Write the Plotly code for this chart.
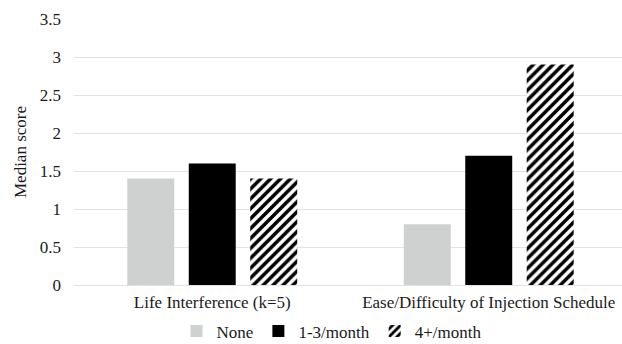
import plotly.graph_objects as go

categories = ["Life Interference (k=5)", "Ease/Difficulty of Injection Schedule"]
series_names = ["None", "1-3/month", "4+/month"]
none_vals = [1.4, 0.8]
low_vals = [1.6, 1.7]
high_vals = [1.4, 2.9]
y_ticks = [0, 0.5, 1, 1.5, 2, 2.5, 3, 3.5]
y_tick_labels = ["0", "0.5", "1", "1.5", "2", "2.5", "3", "3.5"]

font_family = "Liberation Serif"

fig = go.Figure()
fig.add_trace(go.Bar(name=series_names[0], x=categories, y=none_vals,
                     marker=dict(color="#cfd0d0", line=dict(width=0))))
fig.add_trace(go.Bar(name=series_names[1], x=categories, y=low_vals,
                     marker=dict(color="#000000", line=dict(width=0))))
fig.add_trace(go.Bar(name=series_names[2], x=categories, y=high_vals,
                     marker=dict(color="#ffffff", line=dict(width=0),
                                 pattern=dict(shape="/", fgcolor="#000000",
                                              bgcolor="#ffffff", size=7,
                                              solidity=0.5, fgopacity=1))))

fig.update_layout(
    width=622, height=344,
    margin=dict(l=74, r=0, t=19, b=59, autoexpand=False),
    paper_bgcolor="white", plot_bgcolor="white",
    barmode="group", bargap=0.333, bargroupgap=0.236,
    font=dict(family=font_family, size=17, color="#1a1a1a"),
    showlegend=True,
    legend=dict(orientation="h", x=0.47, xanchor="center", y=-0.175,
                yanchor="middle", font=dict(family=font_family, size=17),
                itemwidth=30, tracegroupgap=0),
    xaxis=dict(range=[-0.5, 1.482], showgrid=False, showline=False,
               automargin=False,
               ticks="", tickfont=dict(family=font_family, size=17),
               ticklabelstandoff=5),
    yaxis=dict(range=[0, 3.5], tickvals=y_ticks, ticktext=y_tick_labels,
               automargin=False,
               showgrid=True, gridcolor="#e2e2e2", gridwidth=1,
               zeroline=True, zerolinecolor="#e2e2e2", zerolinewidth=1,
               showline=False, ticks="", ticklen=0, ticklabelstandoff=12,
               tickfont=dict(family=font_family, size=17),
               title=dict(text="Median score",
                          font=dict(family=font_family, size=17), standoff=8)),
)

fig.write_html("out.html")
